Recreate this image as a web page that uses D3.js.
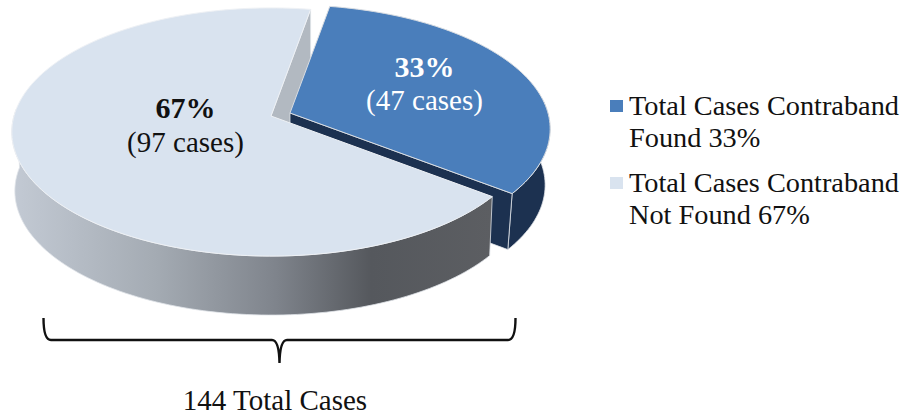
<!DOCTYPE html>
<html>
<head>
<meta charset="utf-8">
<script src="https://cdnjs.cloudflare.com/ajax/libs/d3/7.8.5/d3.min.js"></script>
<style>
  html, body { margin: 0; padding: 0; background: #fff; }
  text { font-family: "Liberation Serif", serif; fill: #111; }
</style>
</head>
<body>
<div id="chart"></div>
<script>
// Chart data
const sliceNames = ["Found", "Not Found"];
const caseCounts = [47, 97];
const percentLabels = ["33%", "67%"];
const caseLabels = ["(47 cases)", "(97 cases)"];
const legendLines = [
  ["Total Cases Contraband", "Found 33%"],
  ["Total Cases Contraband", "Not Found 67%"]
];
const totalLabel = "144 Total Cases";

const width = 904, height = 417;
const topColors = ["#4a7ebb", "#d9e3ef"];
const wallDark = "#1c3150";
const innerGrey = "#b2b9c1";
const edge = "#dfe3e8";

const svg = d3.select("#chart").append("svg")
  .attr("width", width)
  .attr("height", height)
  .style("display", "block");

// Pie angles, first slice starts a little past 12 o'clock
const pie = d3.pie().sort(null).startAngle(10 * Math.PI / 180).endAngle((10 + 360) * Math.PI / 180);
const arcs = pie(caseCounts);

// Tilted disc: circle seen in perspective, far side smaller
const k = 0.129, radiusY = 122, depthLight = 59, depthBlue = 56;
function project(angle, origin, drop = 0) {
  const w = 1 + k * Math.cos(angle);
  return [
    origin[0] + origin[2] * Math.sin(angle) / w,
    origin[1] - radiusY * Math.cos(angle) / w + drop
  ];
}
function rim(a0, a1, origin, drop = 0) {
  const n = Math.ceil(Math.abs(a1 - a0) * 40);
  return d3.range(n + 1).map(i => project(a0 + (a1 - a0) * i / n, origin, drop));
}
const line = d3.line();
const closed = pts => line(pts) + "Z";

const blue = arcs[0], light = arcs[1];
// origin x, origin y, horizontal radius (the lower rim is a little narrower)
const blueCentre = [290, 113, 258], blueLow = [290, 113, 253];
const lightCentre = [271, 116, 257], lightLow = [271, 116, 254];
const blueApex = blueCentre.slice(0, 2), lightApex = lightCentre.slice(0, 2);

// Shading along the front wall of the big slice
const defs = svg.append("defs");
const grad = defs.append("linearGradient")
  .attr("id", "wallShade")
  .attr("gradientUnits", "userSpaceOnUse")
  .attr("x1", 12).attr("x2", 491).attr("y1", 0).attr("y2", 0);
[[0, "#c3cad4"], [0.3, "#a4abb3"], [0.55, "#7f848c"], [0.75, "#55585d"], [1, "#5c5e62"]]
  .forEach(s => grad.append("stop").attr("offset", s[0]).attr("stop-color", s[1]));

// Inner cut face of the big slice, seen behind the blue slice
const backCorner = project(light.endAngle, lightCentre);
svg.append("path")
  .attr("d", closed([lightApex, backCorner, [backCorner[0], backCorner[1] + depthLight], [lightApex[0], lightApex[1] + depthLight]]))
  .attr("fill", innerGrey)
  .attr("stroke", edge)
  .attr("stroke-width", 0.8);

// Blue slice: outer wall, cut face, top
svg.append("path")
  .attr("d", closed(rim(Math.PI / 2 - 0.1, blue.endAngle, blueCentre).concat(rim(blue.endAngle, Math.PI / 2 - 0.1, blueLow, depthBlue))))
  .attr("fill", wallDark)
  .attr("stroke", edge)
  .attr("stroke-width", 0.8);
const blueCorner = project(blue.endAngle, blueCentre);
const blueCornerLow = project(blue.endAngle, blueLow, depthBlue);
svg.append("path")
  .attr("d", closed([blueApex, blueCorner, blueCornerLow, [blueApex[0], blueApex[1] + depthBlue]]))
  .attr("fill", wallDark)
  .attr("stroke", edge)
  .attr("stroke-width", 0.8);
svg.append("path")
  .attr("d", closed([blueApex].concat(rim(blue.startAngle, blue.endAngle, blueCentre))))
  .attr("fill", topColors[0])
  .attr("stroke", "#d9dde2")
  .attr("stroke-width", 1);

// Big slice: front wall and top
const wallEnd = 1.52 * Math.PI;
svg.append("path")
  .attr("d", closed(rim(light.startAngle, wallEnd, lightCentre).concat(rim(wallEnd, light.startAngle, lightLow, depthLight))))
  .attr("fill", "url(#wallShade)")
  .attr("stroke", edge)
  .attr("stroke-width", 0.8);
svg.append("path")
  .attr("d", closed([lightApex].concat(rim(light.startAngle, light.endAngle, lightCentre))))
  .attr("fill", topColors[1])
  .attr("stroke", "#eef1f5")
  .attr("stroke-width", 1);

// Slice labels
const labelPos = [[424.5, 77, 110], [185.5, 118, 152]];
const labelFill = ["#fff", "#111"];
sliceNames.forEach((name, i) => {
  svg.append("text")
    .attr("x", labelPos[i][0]).attr("y", labelPos[i][1])
    .attr("text-anchor", "middle")
    .style("font-size", "30px").style("font-weight", "bold").style("fill", labelFill[i])
    .text(percentLabels[i]);
  svg.append("text")
    .attr("x", labelPos[i][0]).attr("y", labelPos[i][2])
    .attr("text-anchor", "middle")
    .style("font-size", "29px").style("fill", labelFill[i])
    .text(caseLabels[i]);
});

// Legend
const legendY = [115, 192];
legendLines.forEach((lines, i) => {
  svg.append("rect")
    .attr("x", 610).attr("y", legendY[i] - 15)
    .attr("width", 13).attr("height", 12)
    .attr("fill", topColors[i]);
  lines.forEach((t, j) => {
    svg.append("text")
      .attr("x", 629).attr("y", legendY[i] + j * 32)
      .style("font-size", "28.3px")
      .text(t);
  });
});

// Brace under the pie
const brace = d3.path();
brace.moveTo(43.5, 318);
brace.quadraticCurveTo(43.5, 340, 51, 340);
brace.lineTo(272, 340);
brace.quadraticCurveTo(279, 340, 279.5, 363);
brace.quadraticCurveTo(280, 340, 287, 340);
brace.lineTo(508, 340);
brace.quadraticCurveTo(515.5, 340, 515.5, 318);
svg.append("path")
  .attr("d", brace.toString())
  .attr("fill", "none")
  .attr("stroke", "#111")
  .attr("stroke-width", 2.4);

svg.append("text")
  .attr("x", 275).attr("y", 410)
  .attr("text-anchor", "middle")
  .style("font-size", "29px")
  .text(totalLabel);
</script>
</body>
</html>
